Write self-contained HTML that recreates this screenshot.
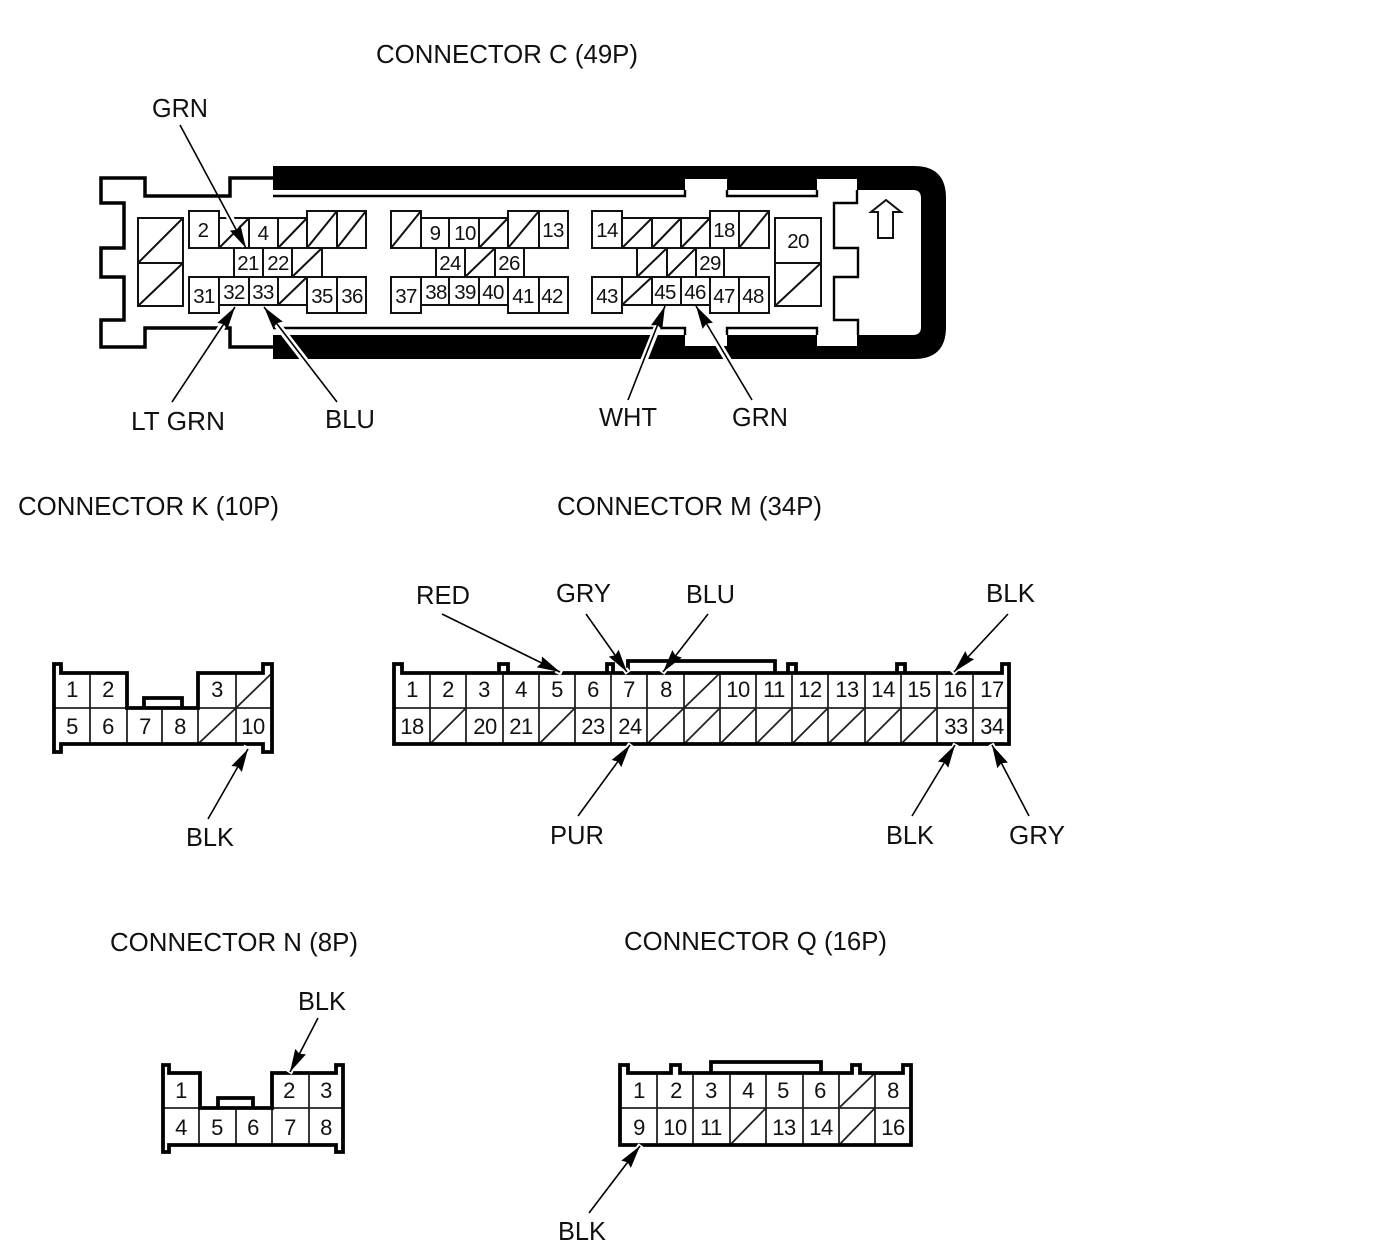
<!DOCTYPE html>
<html>
<head>
<meta charset="utf-8">
<style>
html,body{margin:0;padding:0;background:#fff;}
svg{display:block;}
text{font-family:"Liberation Sans",Arial,sans-serif;fill:#111;}
.l{font-size:25.5px;}
.n{font-size:20.5px;text-anchor:middle;letter-spacing:-.6px;}
.m{font-size:22px;text-anchor:middle;letter-spacing:-.5px;}
.c{fill:none;stroke:#111;stroke-width:2;}
.g{fill:none;stroke:#222;stroke-width:1.8;}
.o{fill:none;stroke:#000;stroke-width:3.5;stroke-linejoin:miter;}
.p{fill:none;stroke:#000;stroke-width:3.8;stroke-linejoin:miter;}
.h{fill:none;stroke:#fff;stroke-width:7;}
.a{fill:none;stroke:#000;stroke-width:1.6;marker-end:url(#ah);}
</style>
</head>
<body>
<svg width="1374" height="1254" viewBox="0 0 1374 1254" xmlns="http://www.w3.org/2000/svg">
<defs>
<marker id="ah" markerUnits="userSpaceOnUse" markerWidth="30" markerHeight="20" refX="23" refY="8" orient="auto" viewBox="0 0 30 16" overflow="visible">
<path d="M0,2 L23,8 L0,14 L2.5,8 Z" fill="#000"/>
</marker>
</defs>
<rect width="1374" height="1254" fill="#fff"/>

<!-- CONNECTOR C body -->
<path d="M273 166H914Q946 166 946 198V327Q946 359 914 359H273Z" fill="#000"/>
<path d="M273 190H913Q921 190 921 198V327Q921 335 913 335H273Z" fill="#fff"/>
<rect x="685" y="179" width="42" height="12" fill="#fff"/>
<rect x="817" y="179" width="40" height="12" fill="#fff"/>
<rect x="685" y="334" width="42" height="12" fill="#fff"/>
<rect x="817" y="334" width="40" height="12" fill="#fff"/>
<path class="o" style="stroke-width:2.4" d="M273 196H685V190M727 190V196H817V190M273 328H685V335M727 335V328H817V335"/>
<path class="o" d="M273 178H230V196H145V178H101V203H124V248H101V277H124V320H101V347H145V328H230V347H273"/>
<path class="o" style="stroke-width:2.4" d="M857 190V203H834V248H858V277H834V320H858V335"/>
<path class="c" style="stroke-width:2" d="M878 238V212H871L886 200L901 212H893V238Z"/>

<!-- C cells -->
<path class="c" d="M138 218H183V263H138ZM138 263H183V306H138ZM138 263L183 218M138 306L183 263
M189 211H219V248H189ZM219 218H249V248H219ZM249 218H278V248H249ZM278 218H307V248H278ZM307 211H337V248H307ZM337 211H366V248H337Z
M219 248L249 218M278 248L307 218M307 248L337 211M337 248L366 211
M234 248H263V277H234ZM263 248H292V277H263ZM292 248H322V277H292ZM292 277L322 248
M189 277H219V313H189ZM219 277H249V305H219ZM249 277H278V305H249ZM278 277H307V305H278ZM307 277H337V313H307ZM337 277H366V313H337ZM278 305L307 277
M391 211H421V248H391ZM421 218H449V248H421ZM449 218H479V248H449ZM479 218H508V248H479ZM508 211H539V248H508ZM539 211H568V248H539Z
M391 248L421 211M479 248L508 218M508 248L539 211
M436 248H465V277H436ZM465 248H495V277H465ZM495 248H524V277H495ZM465 277L495 248
M391 277H421V313H391ZM421 277H449V305H421ZM449 277H479V305H449ZM479 277H508V305H479ZM508 277H539V313H508ZM539 277H568V313H539Z
M592 211H622V248H592ZM622 218H652V248H622ZM652 218H681V248H652ZM681 218H710V248H681ZM710 211H739V248H710ZM739 211H769V248H739Z
M622 248L652 218M652 248L681 218M681 248L710 218M739 248L769 211
M637 248H667V277H637ZM667 248H696V277H667ZM696 248H724V277H696ZM637 277L667 248M667 277L696 248
M592 277H622V313H592ZM622 277H652V305H622ZM652 277H681V305H652ZM681 277H710V305H681ZM710 277H739V313H710ZM739 277H769V313H739ZM622 305L652 277
M775 218H821V263H775ZM775 263H821V306H775ZM775 306L821 263"/>

<!-- C numbers -->
<text class="n" x="203" y="237">2</text><text class="n" x="263" y="240">4</text>
<text class="n" x="248" y="270">21</text><text class="n" x="278" y="270">22</text>
<text class="n" x="204" y="303">31</text><text class="n" x="234" y="299">32</text><text class="n" x="263" y="299">33</text><text class="n" x="322" y="303">35</text><text class="n" x="352" y="303">36</text>
<text class="n" x="435" y="240">9</text><text class="n" x="465" y="240">10</text><text class="n" x="553" y="237">13</text>
<text class="n" x="450" y="270">24</text><text class="n" x="509" y="270">26</text>
<text class="n" x="406" y="303">37</text><text class="n" x="436" y="299">38</text><text class="n" x="465" y="299">39</text><text class="n" x="493" y="299">40</text><text class="n" x="523" y="303">41</text><text class="n" x="552" y="303">42</text>
<text class="n" x="607" y="237">14</text><text class="n" x="724" y="237">18</text><text class="n" x="710" y="270">29</text>
<text class="n" x="607" y="303">43</text><text class="n" x="665" y="299">45</text><text class="n" x="695" y="299">46</text><text class="n" x="724" y="303">47</text><text class="n" x="753" y="303">48</text>
<text class="n" x="798" y="248">20</text>

<!-- CONNECTOR K -->
<path class="g" d="M54 708H272M90 673V744M127 708V744M162 708V744M198 708V744M236 673V744M198 744L236 708L272 673"/>
<path class="p" d="M54 664H61V673H127V708H198V673H263V664H272V752H263V744H61V752H54ZM144 708V698H182V708"/>
<text class="m" x="72" y="697">1</text><text class="m" x="108" y="697">2</text><text class="m" x="217" y="697">3</text>
<text class="m" x="72" y="734">5</text><text class="m" x="108" y="734">6</text><text class="m" x="145" y="734">7</text><text class="m" x="180" y="734">8</text><text class="m" x="253" y="734">10</text>

<!-- CONNECTOR M -->
<path class="g" d="M394 708H1009M430 673V744M466 673V744M503 673V744M539 673V744M575 673V744M611 673V744M647 673V744M684 673V744M720 673V744M756 673V744M792 673V744M828 673V744M865 673V744M901 673V744M937 673V744M973 673V744
M430 744L466 708M539 744L575 708M647 744L684 708M684 744L720 708M720 744L756 708M756 744L792 708M792 744L828 708M828 744L865 708M865 744L901 708M901 744L937 708M684 708L720 673"/>
<path class="p" d="M394 744V664H402V673H1002V664H1009V744ZM499 673V664H508V673M607 673V664H613V673M628 673V661H775V673M788 673V664H796V673M897 673V664H905V673"/>
<text class="m" x="412" y="697">1</text><text class="m" x="448" y="697">2</text><text class="m" x="484" y="697">3</text><text class="m" x="521" y="697">4</text><text class="m" x="557" y="697">5</text><text class="m" x="593" y="697">6</text><text class="m" x="629" y="697">7</text><text class="m" x="666" y="697">8</text>
<text class="m" x="738" y="697">10</text><text class="m" x="774" y="697">11</text><text class="m" x="810" y="697">12</text><text class="m" x="847" y="697">13</text><text class="m" x="883" y="697">14</text><text class="m" x="919" y="697">15</text><text class="m" x="955" y="697">16</text><text class="m" x="992" y="697">17</text>
<text class="m" x="412" y="734">18</text><text class="m" x="485" y="734">20</text><text class="m" x="521" y="734">21</text><text class="m" x="593" y="734">23</text><text class="m" x="630" y="734">24</text><text class="m" x="956" y="734">33</text><text class="m" x="992" y="734">34</text>

<!-- CONNECTOR N -->
<path class="g" d="M163 1108H343M199 1108V1145M236 1108V1145M272 1108V1145M309 1073V1145"/>
<path class="p" d="M163 1065H169V1073H200V1108H272V1073H336V1065H343V1152H336V1145H169V1152H163ZM218 1108V1098H253V1108"/>
<text class="m" x="181" y="1098">1</text><text class="m" x="289" y="1098">2</text><text class="m" x="326" y="1098">3</text>
<text class="m" x="181" y="1135">4</text><text class="m" x="217" y="1135">5</text><text class="m" x="253" y="1135">6</text><text class="m" x="290" y="1135">7</text><text class="m" x="326" y="1135">8</text>

<!-- CONNECTOR Q -->
<path class="g" d="M620 1108H911M657 1073V1145M693 1073V1145M730 1073V1145M766 1073V1145M803 1073V1145M839 1073V1145M875 1073V1145M839 1108L875 1073M730 1145L766 1108M839 1145L875 1108"/>
<path class="p" d="M620 1145V1065H628V1073H671V1065H680V1073H852V1065H860V1073H903V1065H911V1145ZM711 1073V1062H821V1073"/>
<text class="m" x="639" y="1098">1</text><text class="m" x="676" y="1098">2</text><text class="m" x="711" y="1098">3</text><text class="m" x="748" y="1098">4</text><text class="m" x="783" y="1098">5</text><text class="m" x="820" y="1098">6</text><text class="m" x="893" y="1098">8</text>
<text class="m" x="639" y="1135">9</text><text class="m" x="675" y="1135">10</text><text class="m" x="711" y="1135">11</text><text class="m" x="784" y="1135">13</text><text class="m" x="821" y="1135">14</text><text class="m" x="893" y="1135">16</text>

<!-- Leader halos -->
<path class="h" d="M225 208L245 246M172 402L233 310M337 402L266 310M628 400L664 310M752 400L698 310"/>
<path class="h" style="stroke-width:6" d="M244 752L247 746M556 670L562 673M625 669L628 673M665 669L662 673M956 669L952 673M628 748L631 744M954 748L956 744M993 748L991 744M291 1070L289 1073M638 1149L641 1145"/>

<!-- Leaders -->
<path class="a" d="M180 125L246 248"/>
<path class="a" d="M172 402L235 307"/>
<path class="a" d="M337 402L264 307"/>
<path class="a" d="M628 400L665 306"/>
<path class="a" d="M752 400L696 306"/>
<path class="a" d="M208 819L248 749"/>
<path class="a" d="M442 614L560 672"/>
<path class="a" d="M586 614L627 672"/>
<path class="a" d="M708 614L663 672"/>
<path class="a" d="M1008 614L954 672"/>
<path class="a" d="M578 816L630 745"/>
<path class="a" d="M912 816L955 745"/>
<path class="a" d="M1029 816L992 745"/>
<path class="a" d="M318 1018L290 1072"/>
<path class="a" d="M589 1213L640 1146"/>

<!-- Labels -->
<text class="l" x="376" y="63" textLength="262" lengthAdjust="spacingAndGlyphs">CONNECTOR C (49P)</text>
<text class="l" x="152" y="117" textLength="56" lengthAdjust="spacingAndGlyphs">GRN</text>
<text class="l" x="131" y="430" textLength="94" lengthAdjust="spacingAndGlyphs">LT GRN</text>
<text class="l" x="325" y="428" textLength="50" lengthAdjust="spacingAndGlyphs">BLU</text>
<text class="l" x="599" y="426" textLength="58" lengthAdjust="spacingAndGlyphs">WHT</text>
<text class="l" x="732" y="426" textLength="56" lengthAdjust="spacingAndGlyphs">GRN</text>
<text class="l" x="18" y="515" textLength="261" lengthAdjust="spacingAndGlyphs">CONNECTOR K (10P)</text>
<text class="l" x="557" y="515" textLength="265" lengthAdjust="spacingAndGlyphs">CONNECTOR M (34P)</text>
<text class="l" x="416" y="604" textLength="54" lengthAdjust="spacingAndGlyphs">RED</text>
<text class="l" x="556" y="602" textLength="55" lengthAdjust="spacingAndGlyphs">GRY</text>
<text class="l" x="686" y="603" textLength="49" lengthAdjust="spacingAndGlyphs">BLU</text>
<text class="l" x="986" y="602" textLength="49" lengthAdjust="spacingAndGlyphs">BLK</text>
<text class="l" x="186" y="846" textLength="48" lengthAdjust="spacingAndGlyphs">BLK</text>
<text class="l" x="550" y="844" textLength="54" lengthAdjust="spacingAndGlyphs">PUR</text>
<text class="l" x="886" y="844" textLength="48" lengthAdjust="spacingAndGlyphs">BLK</text>
<text class="l" x="1009" y="844" textLength="56" lengthAdjust="spacingAndGlyphs">GRY</text>
<text class="l" x="110" y="951" textLength="248" lengthAdjust="spacingAndGlyphs">CONNECTOR N (8P)</text>
<text class="l" x="624" y="950" textLength="263" lengthAdjust="spacingAndGlyphs">CONNECTOR Q (16P)</text>
<text class="l" x="298" y="1010" textLength="48" lengthAdjust="spacingAndGlyphs">BLK</text>
<text class="l" x="558" y="1240" textLength="48" lengthAdjust="spacingAndGlyphs">BLK</text>
</svg>
</body>
</html>
